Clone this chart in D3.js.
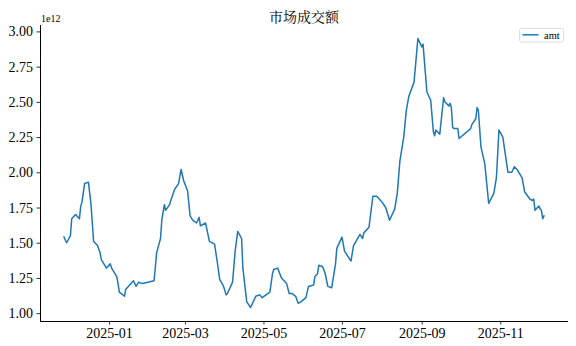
<!DOCTYPE html>
<html><head><meta charset="utf-8">
<script src="https://cdn.jsdelivr.net/npm/d3@7"></script>
<style>body{margin:0;background:#fff}</style>
</head><body><svg id="c" width="576" height="346"></svg>
<script>
const title = "市场成交额";
const seriesName = "amt";
const dates = [
"2024-11-27","2024-11-29","2024-12-02","2024-12-03","2024-12-06","2024-12-09","2024-12-10","2024-12-11","2024-12-13","2024-12-16","2024-12-18","2024-12-20","2024-12-23","2024-12-25","2024-12-26","2024-12-30",
"2025-01-02","2025-01-03","2025-01-07","2025-01-08","2025-01-09","2025-01-13","2025-01-14","2025-01-16","2025-01-17","2025-01-20","2025-01-22","2025-01-24","2025-01-27",
"2025-02-05","2025-02-07","2025-02-10","2025-02-11","2025-02-13","2025-02-14","2025-02-17","2025-02-18","2025-02-21","2025-02-24","2025-02-26","2025-02-28",
"2025-03-03","2025-03-05","2025-03-07","2025-03-10","2025-03-12","2025-03-13","2025-03-17","2025-03-20","2025-03-24","2025-03-26","2025-03-28","2025-03-31",
"2025-04-02","2025-04-03","2025-04-07","2025-04-09","2025-04-11","2025-04-14","2025-04-15","2025-04-18","2025-04-21","2025-04-25","2025-04-28","2025-04-30",
"2025-05-06","2025-05-08","2025-05-09","2025-05-12","2025-05-15","2025-05-19","2025-05-21","2025-05-23","2025-05-26","2025-05-28","2025-05-30",
"2025-06-03","2025-06-05","2025-06-09","2025-06-10","2025-06-12","2025-06-13","2025-06-16","2025-06-18","2025-06-20","2025-06-23","2025-06-26","2025-06-27",
"2025-07-01","2025-07-03","2025-07-08","2025-07-10","2025-07-15","2025-07-17","2025-07-18","2025-07-22","2025-07-25","2025-07-28","2025-07-30",
"2025-08-01","2025-08-04","2025-08-07","2025-08-11","2025-08-13","2025-08-15","2025-08-18","2025-08-20","2025-08-22","2025-08-26","2025-08-29",
"2025-09-01","2025-09-02","2025-09-05","2025-09-08","2025-09-10","2025-09-11","2025-09-12","2025-09-15","2025-09-18","2025-09-19","2025-09-22","2025-09-23","2025-09-24","2025-09-25","2025-09-26","2025-09-29","2025-09-30",
"2025-10-09","2025-10-10","2025-10-13","2025-10-14","2025-10-15","2025-10-17","2025-10-20","2025-10-23","2025-10-27","2025-10-29","2025-10-31",
"2025-11-03","2025-11-07","2025-11-10","2025-11-12","2025-11-14","2025-11-18","2025-11-20","2025-11-24","2025-11-26","2025-11-27","2025-11-28",
"2025-12-01","2025-12-02","2025-12-03","2025-12-04","2025-12-05"
];
const amt = [
1.54e12,1.50e12,1.55e12,1.67e12,1.70e12,1.67e12,1.76e12,1.79e12,1.92e12,1.93e12,1.77e12,1.51e12,1.48e12,1.43e12,1.38e12,1.32e12,
1.35e12,1.32e12,1.26e12,1.21e12,1.15e12,1.12e12,1.17e12,1.19e12,1.20e12,1.23e12,1.19e12,1.22e12,1.21e12,
1.23e12,1.43e12,1.53e12,1.66e12,1.77e12,1.73e12,1.77e12,1.80e12,1.88e12,1.92e12,2.02e12,1.94e12,
1.87e12,1.69e12,1.66e12,1.64e12,1.68e12,1.62e12,1.64e12,1.51e12,1.49e12,1.37e12,1.24e12,1.19e12,
1.13e12,1.14e12,1.22e12,1.44e12,1.58e12,1.53e12,1.32e12,1.08e12,1.04e12,1.12e12,1.13e12,1.11e12,
1.15e12,1.28e12,1.31e12,1.32e12,1.25e12,1.21e12,1.14e12,1.14e12,1.12e12,1.07e12,1.08e12,
1.11e12,1.19e12,1.20e12,1.26e12,1.28e12,1.34e12,1.33e12,1.28e12,1.19e12,1.18e12,1.35e12,1.46e12,
1.54e12,1.44e12,1.37e12,1.48e12,1.56e12,1.53e12,1.57e12,1.61e12,1.83e12,1.83e12,1.81e12,
1.79e12,1.75e12,1.66e12,1.74e12,1.85e12,2.08e12,2.25e12,2.44e12,2.54e12,2.64e12,2.95e12,
2.89e12,2.91e12,2.57e12,2.51e12,2.29e12,2.26e12,2.30e12,2.27e12,2.53e12,2.50e12,2.47e12,2.49e12,2.46e12,2.32e12,2.31e12,2.31e12,2.24e12,
2.31e12,2.34e12,2.38e12,2.46e12,2.44e12,2.18e12,2.06e12,1.78e12,1.85e12,1.96e12,2.30e12,
2.25e12,2.00e12,2.00e12,2.04e12,2.02e12,1.96e12,1.86e12,1.81e12,1.80e12,1.81e12,1.73e12,
1.76e12,1.74e12,1.73e12,1.67e12,1.69e12
];
const yTicks = [1.00e12,1.25e12,1.50e12,1.75e12,2.00e12,2.25e12,2.50e12,2.75e12,3.00e12];
const xTicks = ["2025-01-01","2025-03-01","2025-05-01","2025-07-01","2025-09-01","2025-11-01"];
const yOffsetLabel = "1e12";

const parse = d3.utcParse("%Y-%m-%d");
const data = dates.map((d,i)=>({date:parse(d), v:amt[i]}));
const L=40, R=568, T=25, B=321;
const serif = "'Liberation Serif','Times New Roman',serif";

const [dMin,dMax] = d3.extent(data,d=>d.date);
const dPad = (dMax-dMin)*0.05;
const x = d3.scaleUtc().domain([new Date(+dMin-dPad), new Date(+dMax+dPad)]).range([L,R]);
const [vMin,vMax] = d3.extent(amt);
const vPad = (vMax-vMin)*0.05;
const y = d3.scaleLinear().domain([vMin-vPad, vMax+vPad]).range([B,T]);

const svg = d3.select("#c");

// axes
const gx = svg.append("g").attr("transform",`translate(0,${B})`)
  .call(d3.axisBottom(x).tickValues(xTicks.map(parse)).tickFormat(d3.utcFormat("%Y-%m")).tickSize(3.5).tickPadding(3.5).tickSizeOuter(0));
const gy = svg.append("g").attr("transform",`translate(${L},0)`)
  .call(d3.axisLeft(y).tickValues(yTicks).tickFormat(d=>(d/1e12).toFixed(2)).tickSize(3.5).tickPadding(3.5).tickSizeOuter(0));
[gx,gy].forEach(g=>{
  g.select(".domain").attr("stroke","#000").attr("stroke-width",1);
  g.selectAll(".tick line").attr("stroke","#000").attr("stroke-width",0.8);
  g.selectAll(".tick text").attr("fill","#000").style("font-family",serif).style("font-size","14px");
});
gy.select(".domain").attr("d",`M0.5,${B}V${T}`);
gx.select(".domain").attr("d",`M${L},0.5H${R}`);

// line
svg.append("path").datum(data)
  .attr("fill","none").attr("stroke","#1f77b4").attr("stroke-width",1.5)
  .attr("stroke-linejoin","round").attr("stroke-linecap","square")
  .attr("d", d3.line().x(d=>x(d.date)).y(d=>y(d.v)));

// offset label
svg.append("text").attr("x",L+1).attr("y",T-3).text(yOffsetLabel)
  .style("font-family",serif).style("font-size","10px").attr("fill","#000");

// title
svg.append("text").attr("x",(L+R)/2).attr("y",T-3).attr("text-anchor","middle").text(title)
  .style("font-family","'Noto Serif CJK SC','Noto Sans CJK SC',serif").style("font-size","14px").attr("fill","#000");

// legend
const lg = svg.append("g");
lg.append("rect").attr("x",519.5).attr("y",28.5).attr("width",44).attr("height",13.5).attr("rx",2)
  .attr("fill","#fff").attr("fill-opacity",0.8).attr("stroke","#d6d6d6").attr("stroke-width",0.8);
lg.append("line").attr("x1",522.5).attr("x2",538.5).attr("y1",34.8).attr("y2",34.8)
  .attr("stroke","#1f77b4").attr("stroke-width",1.5);
lg.append("text").attr("x",544).attr("y",38.5).text(seriesName)
  .style("font-family",serif).style("font-size","10.5px").attr("fill","#000");
</script></body></html>
